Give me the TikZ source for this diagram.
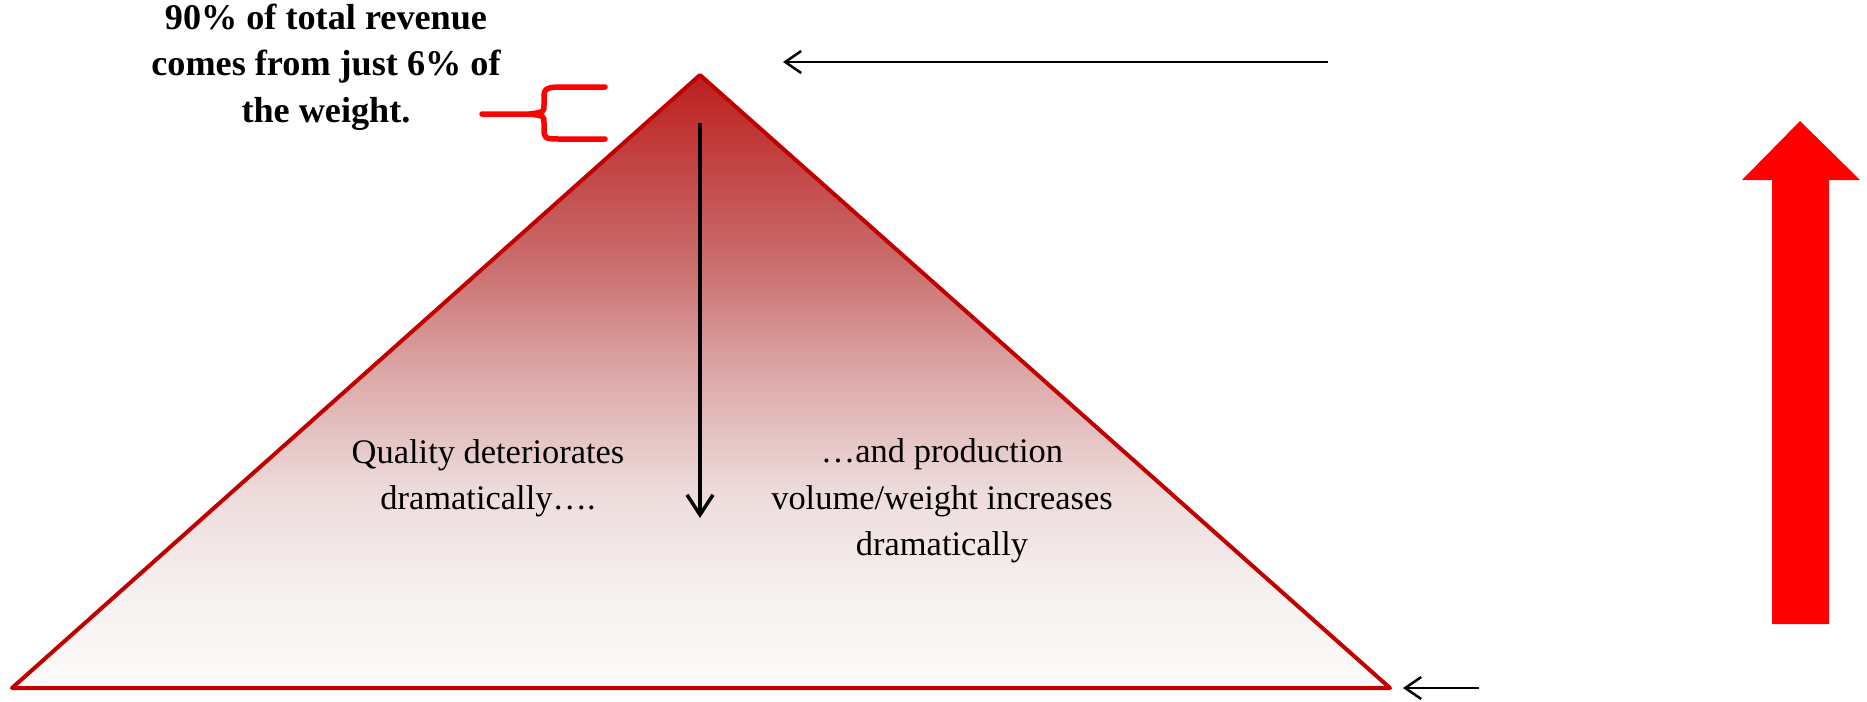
\documentclass[tikz,border=0pt]{standalone}
\usepackage{fontspec}
\setmainfont{Liberation Serif}
\usetikzlibrary{arrows.meta}
\definecolor{pyramidred}{RGB}{192,0,0}
\definecolor{bigred}{RGB}{255,0,0}
\pgfdeclareverticalshading{pyramidfade}{100bp}{
    rgb(0bp)=(0.99,0.98,0.98); rgb(25bp)=(0.99,0.98,0.98);
    rgb(32bp)=(0.97,0.95,0.95); rgb(41bp)=(0.93,0.86,0.86);
    rgb(51bp)=(0.86,0.65,0.65); rgb(60bp)=(0.79,0.42,0.42);
    rgb(75bp)=(0.74,0.12,0.12); rgb(100bp)=(0.74,0.12,0.12)}
\tikzset{
    body text/.style={align=center,font=\fontsize{9.8}{13.2}\selectfont},
    note text/.style={align=center,font=\fontsize{10.3}{13.2}\selectfont\bfseries},
    thin arrow/.style={-{Straight Barb[length=1.6mm,width=2.2mm]},line width=0.025cm},
}
\begin{document}
\begin{tikzpicture}[y=-1cm]
        \useasboundingbox (0,0) rectangle (18.67,7.01);
        % pyramid
        \coordinate (apex) at (7.00,0.75);
        \coordinate (base-left) at (0.12,6.88);
        \coordinate (base-right) at (13.90,6.88);
        \shade [shading=pyramidfade] (apex) -- (base-left) -- (base-right) -- cycle;
        \draw [pyramidred,line width=0.04cm,line join=round] (apex) -- (base-left) -- (base-right) -- cycle;
        % texts
        \node [note text] (revenue) at (3.26,0.67) {90\% of total revenue\\comes from just 6\% of\\the weight.};
        \node [body text] (quality) at (4.88,4.78) {Quality deteriorates\\dramatically….};
        \node [body text] (volume) at (9.42,5.01) {…and production\\volume/weight increases\\dramatically};
        % arrows
        \coordinate (down-start) at (7.00,1.23);
        \coordinate (down-end) at (7.00,5.18);
        \draw [-{Straight Barb[length=2mm,width=2.6mm]},line width=0.035cm] (down-start) -- (down-end);
        \coordinate (top-start) at (13.28,0.62);
        \coordinate (top-end) at (7.83,0.62);
        \draw [thin arrow] (top-start) -- (top-end);
        \coordinate (base-start) at (14.79,6.88);
        \coordinate (base-end) at (14.03,6.88);
        \draw [thin arrow] (base-start) -- (base-end);
        % brace
        \draw [bigred,line width=0.055cm,line cap=round]
            (6.05,0.87) -- (5.60,0.87) .. controls (5.44,0.87) and (5.44,0.90) .. (5.44,1.00)
            -- (5.44,1.05) .. controls (5.44,1.12) .. (5.30,1.14) -- (4.82,1.14);
        \draw [bigred,line width=0.055cm,line cap=round]
            (5.30,1.14) .. controls (5.44,1.16) .. (5.44,1.23)
            -- (5.44,1.28) .. controls (5.44,1.38) and (5.44,1.39) .. (5.60,1.39) -- (6.05,1.39);
        % big arrow
        \fill [bigred] (18.00,1.21) -- (18.60,1.80) -- (18.29,1.80) -- (18.29,6.24)
            -- (17.72,6.24) -- (17.72,1.80) -- (17.42,1.80) -- cycle;
\end{tikzpicture}
\end{document}
